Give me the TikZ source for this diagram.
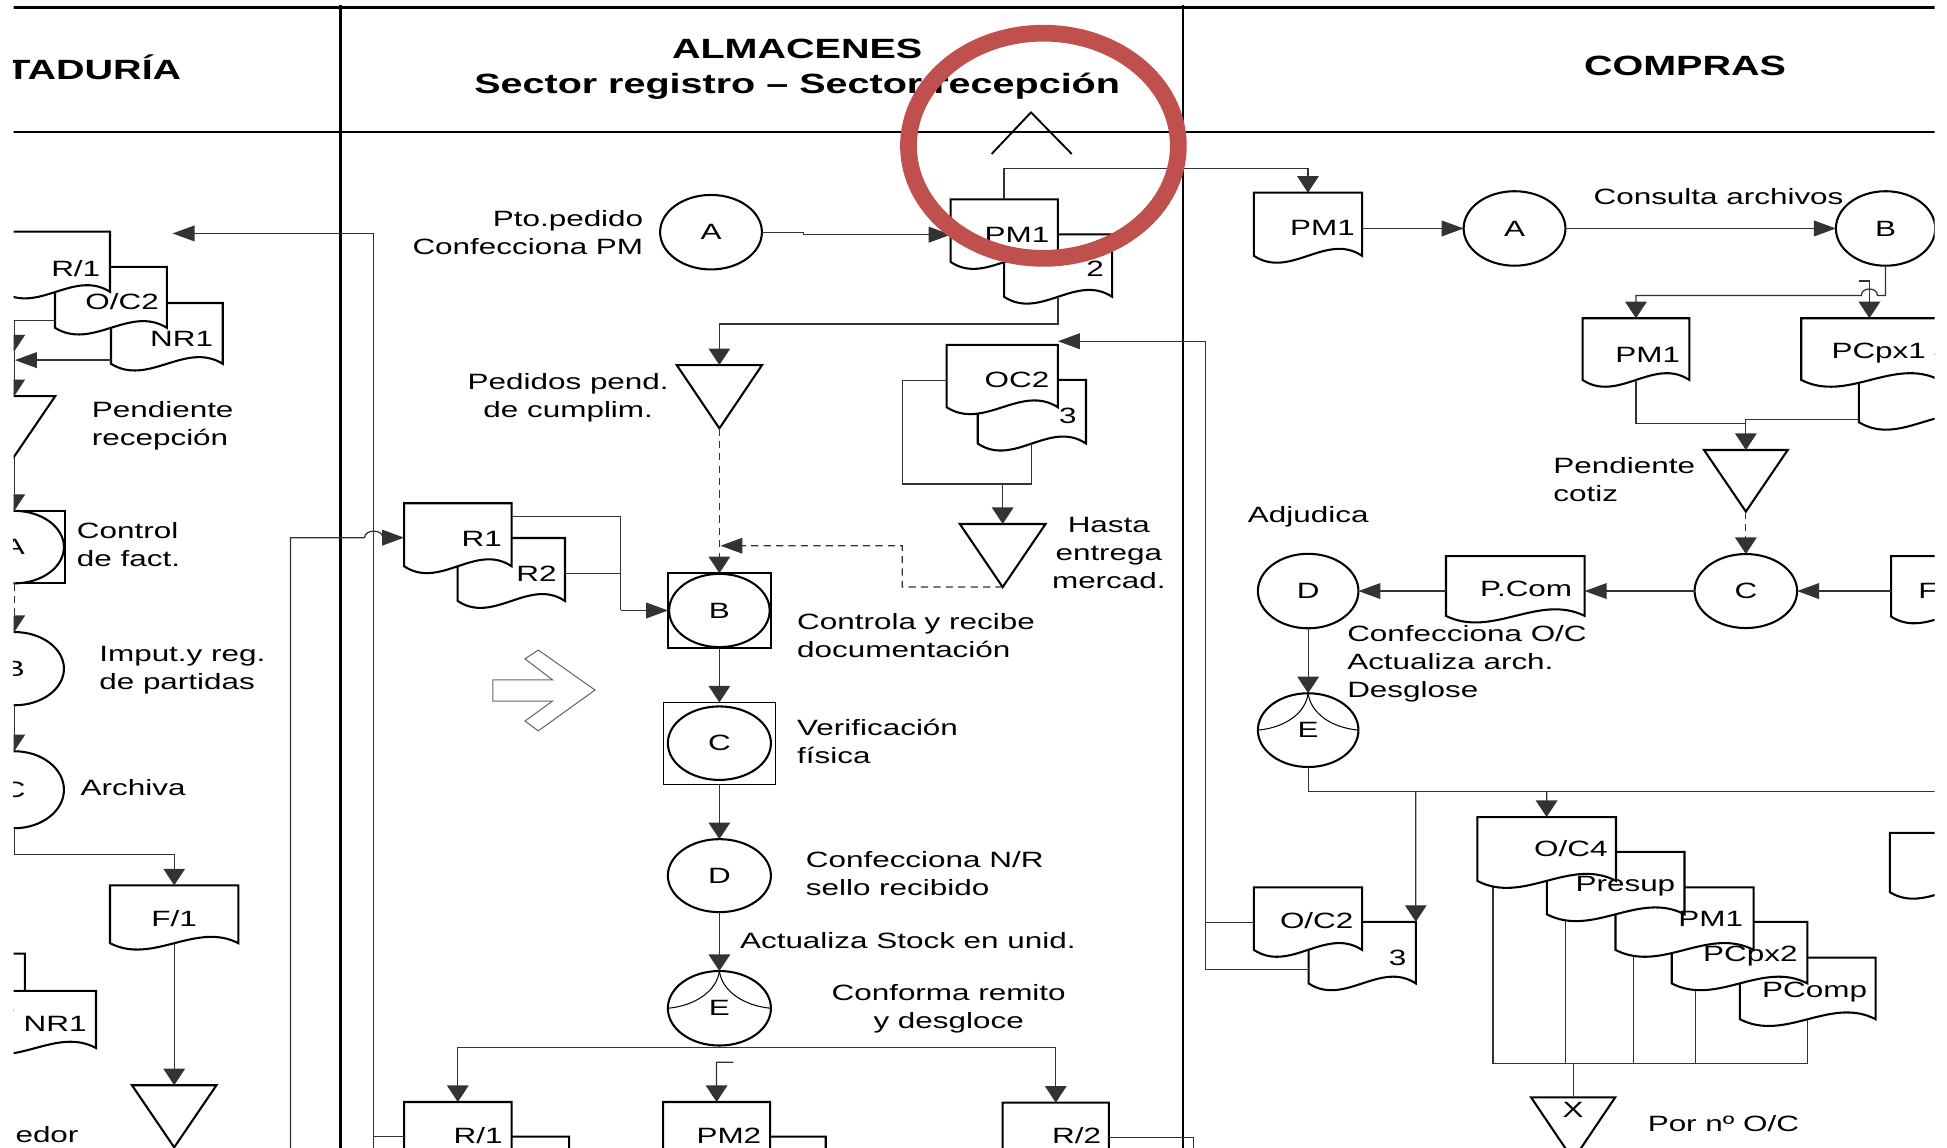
\documentclass[tikz,border=0pt]{standalone}
\usepackage{fontspec}
\setmainfont{Liberation Sans}
\usepackage{graphicx}
\usetikzlibrary{arrows.meta,shapes.geometric}
\definecolor{redc}{HTML}{C0504D}
\newcommand\sy[1]{\scalebox{1.42}[1]{#1}}
\newcommand\sx[2][c]{\scalebox{1.42}[1]{\begin{tabular}[t]{@{}#1@{}}#2\end{tabular}}}
% document shape: name, left, top, right, side-bottom
\newcommand\docn[5]{%
  \pgfmathsetmacro\dcx{((#2)+(#4))/2}%
  \pgfmathsetmacro\dcy{((#3)+(#5))/2}%
  \pgfmathsetmacro\dw{(#4)-(#2)}%
  \pgfmathsetmacro\dh{(#5)-(#3)}%
  \pgfmathsetmacro\dk{0.38*\dh}%
  \pgfmathsetmacro\dt{\dw/3}%
  \node[box,minimum width=\dw*0.6pt,minimum height=\dh*0.6pt] (#1) at (\dcx,\dcy) {};
  \draw[shp] (#1.south west) -- (#1.north west) -- (#1.north east) -- (#1.south east)
     .. controls +(-\dt,-\dk) and +(\dt,\dk) .. (#1.south west) -- cycle;}
% inverted triangle: name, left, top, right, apex-y
\newcommand\trin[5]{%
  \pgfmathsetmacro\dcx{((#2)+(#4))/2}%
  \pgfmathsetmacro\dcy{((#3)+(#5))/2}%
  \pgfmathsetmacro\dw{(#4)-(#2)}%
  \pgfmathsetmacro\dh{(#5)-(#3)}%
  \node[box,minimum width=\dw*0.6pt,minimum height=\dh*0.6pt] (#1) at (\dcx,\dcy) {};
  \draw[shp] (#1.north west) -- (#1.north east) -- (#1.south) -- cycle;}
% ellipse: name, x, y, rx, ry, letter
\newcommand\circn[6]{\node[circ,minimum width=#4*1.2pt,minimum height=#5*1.2pt] (#1) at (#2,#3) {\sy{#6}};}
\begin{document}
\begin{tikzpicture}[x=0.6pt,y=-0.6pt,
  box/.style={rectangle,inner sep=0pt,outer sep=0pt,draw=none},
  shp/.style={draw=black,line width=1pt,fill=white},
  con/.style={draw=black!80,line width=0.6pt},
  frame/.style={draw=black,line width=1.4pt},
  av/.style={-{Triangle[length=8pt,width=10.4pt]}},
  ah/.style={-{Triangle[length=10.6pt,width=7.6pt]}},
  dsh/.style={dash pattern=on 3.5pt off 2.5pt},
  lbl/.style={inner sep=0pt,outer sep=0pt,font=\fontsize{10.7}{13.5}\selectfont},
  hdr/.style={inner sep=0pt,outer sep=0pt,font=\fontsize{13.45}{16.8}\selectfont\bfseries},
  circ/.style={ellipse,draw=black,line width=1pt,fill=white,inner sep=0pt,outer sep=0pt,font=\fontsize{10.7}{13.5}\selectfont},
  earc/.style={draw=black,line width=0.5pt}
]
\useasboundingbox (0,0) rectangle (1568,924);
\begin{scope}
\clip (11,0) rectangle (1558,924);

% ---------- frame ----------
\draw[frame] (0,6) -- (1568,6);
\draw[frame] (0,106.3) -- (1568,106.3);
\draw[frame] (274,4) -- (274,930);
\draw[frame] (952.7,4) -- (952.7,930);

% ---------- headers ----------
\node[hdr,anchor=base east] (hcont) at (146,64) {\sy{TADURÍA}};
\node[hdr,anchor=base] (halm) at (642,47) {\sx{ALMACENES\\Sector registro – Sector recepción}};
\node[hdr,anchor=base] (hcom) at (1357,61) {\sy{COMPRAS}};

% ---------- lines hidden behind the O/C4 stack ----------
\draw[con] (1202.4,700) -- (1202.4,856.7) -- (1455.6,856.7) -- (1455.6,815);
\draw[con] (1260.7,730) -- (1260.7,856.7);
\draw[con] (1315.6,755) -- (1315.6,856.7);
\draw[con] (1365.5,785) -- (1365.5,856.7);

% ================= CONTADURIA =================
\docn{nrc}{89.4}{244}{179.4}{293}
\docn{occ}{44.3}{215}{134.4}{264}
\docn{r1c}{1.6}{186.6}{88.6}{235}
\trin{tpr}{-23.5}{319}{44.5}{369}
\node[box,draw=black,line width=1pt,minimum width=82*0.6pt,minimum height=58.3*0.6pt] (kAbox) at (11.5,440.6) {};
\circn{kA}{11.5}{440.6}{40}{29.2}{A}
\circn{kB}{11.5}{538.5}{40}{29.5}{B}
\circn{kC}{11.5}{636}{40}{31}{C}
\docn{f1}{88.6}{713}{192}{759.6}
\trin{tf1}{106.3}{874}{174.3}{924}
\docn{dbl}{-60}{768}{20}{818}
\docn{nrb}{-20}{798}{77.3}{844}

\draw[con] (occ.west |- 0,258) -- (0,258);
\draw[con,ah] (nrc.west |- 0,290) -- (12,290);
\draw[con,av] (11.5,258) -- (11.5,283);
\draw[con,av] (11.5,283) -- (tpr.north -| 11.5,0);
\draw[con,av] (11.5,369) -- (kAbox.north);
\draw[con,dsh,av] (kA.south) -- (kB.north);
\draw[con,av] (kB.south) -- (kC.north);
\draw[con,av] (kC.south) -- (11.5,688) -- (140.3,688) -- (f1.north);
\draw[con,av] (f1.south) -- (tf1.north);

% ================= ALMACENES =================
\circn{aA}{572.6}{187}{41}{30}{A}
\docn{pm2a}{808.6}{188.7}{895.6}{239}
\docn{pm1a}{765.6}{160.5}{852}{211}
\trin{tpp}{545}{294}{613.7}{345}
\docn{oc3}{787.4}{305.9}{874.6}{357.2}
\docn{oc2}{762.4}{277.7}{852}{328}
\trin{the}{773}{422}{842}{472.8}
\docn{r2}{368.6}{433.3}{455}{484}
\docn{r1}{325.4}{405.3}{412}{456}
\node[box,draw=black,line width=1.2pt,minimum width=82.7*0.6pt,minimum height=60.1*0.6pt] (bbox) at (579.35,491.65) {};
\circn{aB}{579.35}{491.65}{40.5}{29.5}{B}
\node[box,draw=black,line width=0.5pt,minimum width=90.7*0.6pt,minimum height=65.7*0.6pt] (cbox) at (579.35,598.55) {};
\circn{aC}{579.35}{598.5}{41.5}{29.6}{C}
\circn{aD}{579.35}{705.2}{41.5}{29.4}{D}
\circn{aE}{579.35}{812}{41.5}{30}{E}
\draw[earc] (aE.north) .. controls +(-2,16) and +(22,-2) .. (aE.west);
\draw[earc] (aE.north) .. controls +(2,16) and +(-22,-2) .. (aE.east);
\docn{r1bb}{370}{915.4}{458.3}{966}
\docn{r1b}{325.4}{887.5}{412}{938}
\docn{pm2bb}{580}{915.4}{665}{966}
\docn{pm2}{534}{887.5}{620.2}{938}
\docn{r2b}{807.5}{888}{893}{938}
% hollow block arrow
\draw[black!60,line width=0.5pt] (397,547.5) -- (445,547.5) -- (422.8,530.6) -- (433.5,523.5) -- (479.2,555.7) -- (433.5,588.6) -- (422.8,580.7) -- (445,564.6) -- (397,564.6) -- cycle;

% connectors
\draw[con,ah] (301,930) -- (301,188) -- (139,188);
\draw[con] (r1b.west |- 0,915.4) -- (301,915.4);
\draw[con,ah] (234,930) -- (234,433) -- (293.6,433) .. controls (293.6,426) and (308.4,426) .. (308.4,433) -- (r1.west |- 0,433);
\draw[con,ah] (aA.east) -- (647,187) -- (647,189) -- (pm1a.west |- 0,189);
\draw[con,av] (pm1a.north -| 808.6,0) -- (808.6,136) -- (1053.35,136) -- (1053.35,155.2);
\draw[con,av] (pm2a.south) -- (852.1,261) -- (579.35,261) -- (tpp.north);
\draw[con,dsh,av] (tpp.south) -- (bbox.north);
\draw[con,dsh,ah] (the.south) -- (726.7,472.8) -- (726.7,439.5) -- (580.2,439.5);
\draw[con] (oc2.west |- 0,306.6) -- (726.7,306.6) -- (726.7,389.7) -- (831,389.7) -- (oc3.south);
\draw[con,av] (807.5,389.7) -- (the.north);
\draw[con] (r1.east |- 0,416) -- (500,416) -- (500,491.65);
\draw[con] (r2.east |- 0,462) -- (500,462);
\draw[con,ah] (500,491.65) -- (bbox.west);
\draw[con,av] (bbox.south) -- (cbox.north);
\draw[con,av] (cbox.south) -- (aD.north);
\draw[con,av] (aD.south) -- (aE.north);
\draw[con,av] (aE.south) -- (579.35,843.3) -- (368.7,843.3) -- (r1b.north);
\draw[con,av] (579.35,843.3) -- (850.25,843.3) -- (r2b.north);
\draw[con,av] (590.6,855.4) -- (577.1,855.4) -- (pm2.north);
\draw[con] (r2b.east |- 0,916) -- (961,916) -- (961,930);

% ================= COMPRAS =================
\docn{cpm1}{1009.8}{155.2}{1096.9}{206}
\circn{pA}{1219.7}{184}{41}{30}{A}
\circn{pB}{1518.5}{184}{40}{30}{B}
\docn{cpxb}{1497}{285}{1600}{340}
\docn{cpx1}{1450.6}{256.3}{1562}{306}
\docn{cpm1b}{1274.5}{256.3}{1360.5}{306}
\trin{tpc}{1372.3}{362.4}{1439.7}{412}
\circn{pC}{1406}{476}{41.3}{29.8}{C}
\docn{cfd}{1523}{447.8}{1610}{496.6}
\docn{cpcom}{1164.5}{447.8}{1276.2}{496}
\circn{pD}{1053.5}{476}{40.5}{30}{D}
\circn{pE}{1053.5}{588}{40.5}{29.7}{E}
\draw[earc] (pE.north) .. controls +(-2,16) and +(22,-2) .. (pE.west);
\draw[earc] (pE.north) .. controls +(2,16) and +(-22,-2) .. (pE.east);
\docn{co3}{1053.9}{742.4}{1140.2}{792}
\docn{co2}{1009.8}{714.7}{1096.9}{765}
\docn{spc}{1401.2}{771.2}{1510.5}{820.8}
\docn{spx}{1346.3}{742.4}{1455.6}{792}
\docn{spm}{1301}{714.7}{1412.3}{765}
\docn{spr}{1245.7}{686}{1356.6}{736.3}
\docn{soc}{1189.7}{658}{1301.4}{709.4}
\docn{crd}{1522}{670.8}{1610}{718.5}
\trin{tx}{1233}{883.7}{1300.8}{934}

\draw[con,ah] (971,781) -- (971,274.8) -- (oc2.north east |- 0,274.8);
\draw[con] (co2.west |- 0,742.8) -- (971,742.8);
\draw[con] (co3.west |- 0,781) -- (971,781);
\draw[con,ah] (cpm1.east |- 0,184) -- (pA.west);
\draw[con,ah] (pA.east) -- (pB.west);
\draw[con,av] (pB.south) -- (1518.5,238) -- (1512,238) .. controls (1512,231) and (1499,231) .. (1499,238) -- (1317.5,238) -- (cpm1b.north);
\draw[con,av] (1497,226.3) -- (1505.5,226.3) -- (cpx1.north -| 1505.5,0);
\draw[con] (cpm1b.south) -- (1317.5,341) -- (1406,341);
\draw[con,av] (cpxb.west |- 0,338) -- (1406,338) -- (tpc.north);
\draw[con,dsh,av] (tpc.south) -- (pC.north);
\draw[con,ah] (cfd.west |- 0,476) -- (pC.east);
\draw[con,ah] (pC.west) -- (cpcom.east |- 0,476);
\draw[con,ah] (cpcom.west |- 0,476) -- (pD.east);
\draw[con,av] (pD.south) -- (pE.north);
\draw[con] (pE.south) -- (1053.5,637.4) -- (1570,637.4);
\draw[con,av] (1140.2,637.4) -- (co3.north east);
\draw[con,av] (1245.55,637.4) -- (soc.north);
\draw[con] (1266.9,856.7) -- (tx.north);

% ================= labels =================
\node[lbl,anchor=base west] (tPend) at (74,336) {\sx[l]{Pendiente\\recepción}};
\node[lbl,anchor=base west] (tCtrl) at (62,434) {\sx[l]{Control\\de fact.}};
\node[lbl,anchor=base west] (tImp) at (80,533) {\sx[l]{Imput.y reg.\\de partidas}};
\node[lbl,anchor=base west] (tArch) at (65,641) {\sy{Archiva}};
\node[lbl,anchor=base] (tF1) at (140.3,746) {\sy{F/1}};
\node[lbl,anchor=base] (tR1c) at (61,223) {\sy{R/1}};
\node[lbl,anchor=base] (tOCc) at (98.4,249.6) {\sy{O/C2}};
\node[lbl,anchor=base] (tNRc) at (146.3,279) {\sy{NR1}};
\node[lbl,anchor=base] (tNRb) at (44.4,831) {\sy{NR1}};
\node[lbl,anchor=base west] (tedor) at (12.5,920) {\sy{edor}};

\node[lbl,anchor=base east] (tPto) at (518,182.5) {\sx[r]{Pto.pedido\\Confecciona PM}};
\node[lbl,anchor=base] (tPed) at (457.6,314) {\sx{Pedidos pend.\\de cumplim.}};
\node[lbl,anchor=base west] (tCtl) at (642,507) {\sx[l]{Controla y recibe\\documentación}};
\node[lbl,anchor=base west] (tVer) at (642,592) {\sx[l]{Verificación\\física}};
\node[lbl,anchor=base west] (tCNR) at (649,699) {\sx[l]{Confecciona N/R\\sello recibido}};
\node[lbl,anchor=base west] (tAct) at (596,764) {\sy{Actualiza Stock en unid.}};
\node[lbl,anchor=base] (tConf) at (764,806) {\sx{Conforma remito\\y desgloce}};
\node[lbl,anchor=base] (tHas) at (893,429) {\sx{Hasta\\entrega\\mercad.}};
\node[lbl,anchor=base] (tPM1a) at (819,195) {\sy{PM1}};
\node[lbl,anchor=base] (t2a) at (882,223) {\sy{2}};
\node[lbl,anchor=base] (tOC2a) at (819,312) {\sy{OC2}};
\node[lbl,anchor=base] (t3a) at (860,341) {\sy{3}};
\node[lbl,anchor=base] (tR1) at (388,440) {\sy{R1}};
\node[lbl,anchor=base] (tR2) at (432,468) {\sy{R2}};
\node[lbl,anchor=base] (tR1b) at (385,921) {\sy{R/1}};
\node[lbl,anchor=base] (tPM2) at (587,921) {\sy{PM2}};
\node[lbl,anchor=base] (tR2b) at (867,921) {\sy{R/2}};

\node[lbl,anchor=base] (tCons) at (1384,165) {\sy{Consulta archivos}};
\node[lbl,anchor=base] (tPM1c) at (1065,190) {\sy{PM1}};
\node[lbl,anchor=base] (tPM1d) at (1327,292) {\sy{PM1}};
\node[lbl,anchor=base] (tPCpx1) at (1513,289) {\sy{PCpx1}};
\node[lbl,anchor=base west] (tPc) at (1251,381) {\sx[l]{Pendiente\\cotiz}};
\node[lbl,anchor=base west] (tAdj) at (1005,421) {\sy{Adjudica}};
\node[lbl,anchor=base] (tPCom) at (1229,480) {\sy{P.Com}};
\node[lbl,anchor=base west] (tF) at (1545,482) {\sy{F}};
\node[lbl,anchor=base west] (tCOC) at (1085,517) {\sx[l]{Confecciona O/C\\Actualiza arch.\\Desglose}};
\node[lbl,anchor=base] (tOC2c) at (1060.4,747.7) {\sy{O/C2}};
\node[lbl,anchor=base] (t3c) at (1125.6,777.6) {\sy{3}};
\node[lbl,anchor=base] (tOC4) at (1265,689.5) {\sy{O/C4}};
\node[lbl,anchor=base] (tPres) at (1309,718) {\sy{Presup}};
\node[lbl,anchor=base] (tPM1e) at (1377.7,746) {\sy{PM1}};
\node[lbl,anchor=base] (tPCpx2) at (1409.6,774.7) {\sy{PCpx2}};
\node[lbl,anchor=base] (tPComp) at (1461.4,803.5) {\sy{PComp}};
\node[lbl,anchor=base] (tX) at (1266.9,900) {\sy{X}};
\node[lbl,anchor=base west] (tPor) at (1327,911) {\sy{Por nº O/C}};

% ================= annotation =================
\draw[line width=0.9pt] (798.6,124) -- (830.3,90.5) -- (863.1,124);
\draw[redc,line width=8.1pt] (840.3,117.4) ellipse [x radius=65.2pt, y radius=54.4pt];
\end{scope}
\end{tikzpicture}
\end{document}
